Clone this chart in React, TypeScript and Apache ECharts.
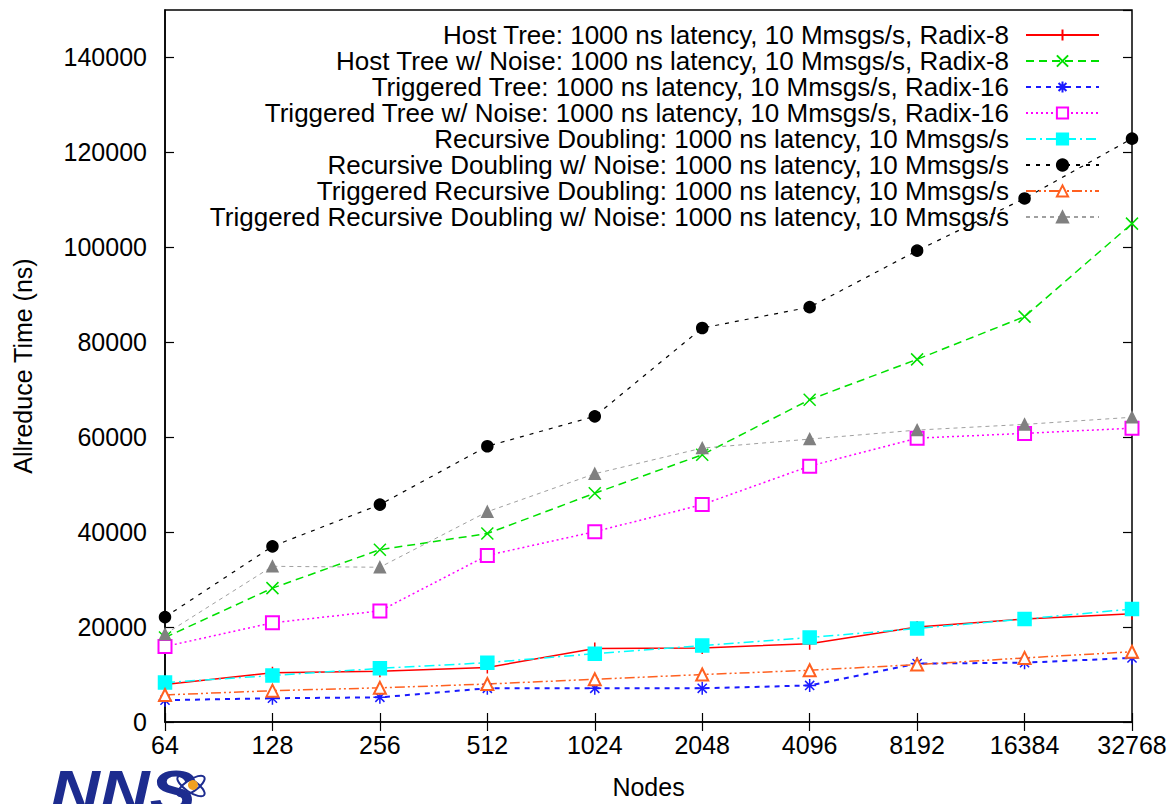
import React, { useEffect, useRef } from "react";
import * as echarts from "echarts";

const categories = ["64", "128", "256", "512", "1024", "2048", "4096", "8192", "16384", "32768"];
const yTickInterval = 20000;
const yMax = 150000;

const hostTree = [7900, 10400, 10700, 11500, 15500, 15600, 16500, 20000, 21700, 22800];
const hostTreeNoise = [17800, 28200, 36300, 39700, 48200, 56300, 67900, 76400, 85400, 105000];
const trigTree = [4600, 5000, 5200, 7100, 7100, 7100, 7700, 12300, 12500, 13500];
const trigTreeNoise = [15900, 20900, 23400, 35100, 40100, 45800, 53900, 59800, 60800, 61900];
const recDoub = [8300, 9800, 11300, 12500, 14400, 16100, 17800, 19700, 21700, 23800];
const recDoubNoise = [22100, 37000, 45800, 58100, 64400, 83000, 87400, 99300, 110300, 122900];
const trigRecDoub = [5700, 6600, 7200, 8000, 9000, 10000, 10900, 12100, 13500, 14800];
const trigRecDoubNoise = [18500, 32800, 32600, 44300, 52300, 57700, 59600, 61500, 62700, 64200];

const seriesNames = [
  "Host Tree: 1000 ns latency, 10 Mmsgs/s, Radix-8",
  "Host Tree w/ Noise: 1000 ns latency, 10 Mmsgs/s, Radix-8",
  "Triggered Tree: 1000 ns latency, 10 Mmsgs/s, Radix-16",
  "Triggered Tree w/ Noise: 1000 ns latency, 10 Mmsgs/s, Radix-16",
  "Recursive Doubling: 1000 ns latency, 10 Mmsgs/s",
  "Recursive Doubling w/ Noise: 1000 ns latency, 10 Mmsgs/s",
  "Triggered Recursive Doubling: 1000 ns latency, 10 Mmsgs/s",
  "Triggered Recursive Doubling w/ Noise: 1000 ns latency, 10 Mmsgs/s",
];

const FONT = "'Liberation Sans', Arial, Helvetica, sans-serif";

const PLUS = "path://M5,0V10M0,5H10";
const CROSS = "path://M0,0L10,10M10,0L0,10";
const STAR = "path://M5,0V10M0,5H10M1.5,1.5L8.5,8.5M8.5,1.5L1.5,8.5";

function mk(
  name: string,
  data: number[],
  color: string,
  symbol: string,
  lineType: any,
  width: number,
  symbolSize: number,
  lineColor?: string
) {
  return {
    name,
    type: "line",
    data,
    symbol,
    symbolSize,
    showSymbol: true,
    itemStyle: { color, borderColor: color, borderWidth: 1.5 },
    lineStyle: { color: lineColor || color, width, type: lineType },
    emphasis: { disabled: true },
  };
}

export default function App() {
  const ref = useRef<HTMLDivElement>(null);
  useEffect(() => {
    if (!ref.current) return;
    const chart = echarts.init(ref.current, undefined, { renderer: "svg" });
    const axisLabelStyle = { color: "#000", fontSize: 25, fontFamily: FONT };
    const option: any = {
      animation: false,
      backgroundColor: "#fff",
      grid: {
        left: 165,
        right: 39,
        top: 10,
        bottom: 77,
        show: true,
        borderColor: "#000",
        borderWidth: 1.5,
        containLabel: false,
      },
      legend: {
        orient: "vertical",
        align: "right",
        right: 66,
        top: 17,
        itemWidth: 73,
        itemHeight: 14,
        itemGap: 0,
        textStyle: {
          color: "#000",
          fontSize: 26,
          fontFamily: FONT,
          lineHeight: 25,
          padding: [0, 12, 0, 0],
        },
        data: seriesNames,
      },
      xAxis: [
        {
          type: "category",
          data: categories,
          boundaryGap: false,
          position: "bottom",
          name: "Nodes",
          nameLocation: "middle",
          nameGap: 52,
          nameTextStyle: { color: "#000", fontSize: 25, fontFamily: FONT },
          axisLine: { show: true, lineStyle: { color: "#000", width: 1.5 } },
          axisTick: { show: true, inside: true, length: 9, lineStyle: { color: "#000", width: 1.2 } },
          axisLabel: { ...axisLabelStyle, margin: 10, interval: 0 },
          splitLine: { show: false },
        },
        {
          type: "category",
          data: categories,
          boundaryGap: false,
          position: "top",
          axisLine: { show: false },
          axisTick: { show: true, inside: true, length: 9, lineStyle: { color: "#000", width: 1.2 } },
          axisLabel: { show: false },
          splitLine: { show: false },
        },
      ],
      yAxis: [
        {
          type: "value",
          min: 0,
          max: yMax,
          interval: yTickInterval,
          position: "left",
          name: "Allreduce Time (ns)",
          nameLocation: "middle",
          nameGap: 130,
          nameTextStyle: { color: "#000", fontSize: 25, fontFamily: FONT },
          axisLine: { show: true, lineStyle: { color: "#000", width: 1.5 } },
          axisTick: { show: true, inside: true, length: 9, lineStyle: { color: "#000", width: 1.2 } },
          axisLabel: {
            ...axisLabelStyle,
            margin: 18,
            showMaxLabel: false,
            formatter: (v: number) => String(v),
          },
          splitLine: { show: false },
        },
        {
          type: "value",
          min: 0,
          max: yMax,
          interval: yTickInterval,
          position: "right",
          axisLine: { show: false },
          axisTick: { show: true, inside: true, length: 9, lineStyle: { color: "#000", width: 1.2 } },
          axisLabel: { show: false },
          splitLine: { show: false },
        },
      ],
      series: [
        mk(seriesNames[0], hostTree, "#ff0000", PLUS, "solid", 1.5, 12),
        mk(seriesNames[1], hostTreeNoise, "#00e000", CROSS, [8, 5], 1.5, 12),
        mk(seriesNames[2], trigTree, "#1a1aff", STAR, [5, 5], 2, 13),
        mk(seriesNames[3], trigTreeNoise, "#ff00ff", "emptyRect", [2, 3], 1.5, 13),
        mk(seriesNames[4], recDoub, "#00ffff", "rect", [10, 4, 2, 4], 1.5, 13),
        mk(seriesNames[5], recDoubNoise, "#000000", "circle", [4, 6], 1.2, 11),
        mk(seriesNames[6], trigRecDoub, "#ff6020", "emptyTriangle", [10, 3, 2, 3, 2, 3], 1.5, 12),
        mk(seriesNames[7], trigRecDoubNoise, "#808080", "triangle", [4, 4], 1, 11, "#a0a0a0"),
      ],
      graphic: [
        {
          type: "text",
          x: 50,
          y: 761,
          scaleX: 1.15,
          silent: true,
          style: {
            text: "NNS",
            font: "italic 900 60px " + FONT,
            fill: "#1d2c8f",
          },
        },
        {
          type: "ellipse",
          silent: true,
          x: 191,
          y: 786,
          rotation: 0.6,
          shape: { cx: 0, cy: 0, rx: 16, ry: 6 },
          style: { fill: "none", stroke: "#1d2c8f", lineWidth: 2 },
        },
        {
          type: "ellipse",
          silent: true,
          x: 191,
          y: 786,
          rotation: -0.6,
          shape: { cx: 0, cy: 0, rx: 16, ry: 6 },
          style: { fill: "none", stroke: "#1d2c8f", lineWidth: 2 },
        },
        {
          type: "circle",
          silent: true,
          shape: { cx: 193, cy: 785, r: 5 },
          style: { fill: "#f0a020" },
        },
      ],
    };
    chart.setOption(option);
    return () => chart.dispose();
  }, []);
  return (
    <div
      ref={ref}
      style={{ position: "fixed", left: 0, top: 0, width: 1171, height: 804 }}
    />
  );
}
